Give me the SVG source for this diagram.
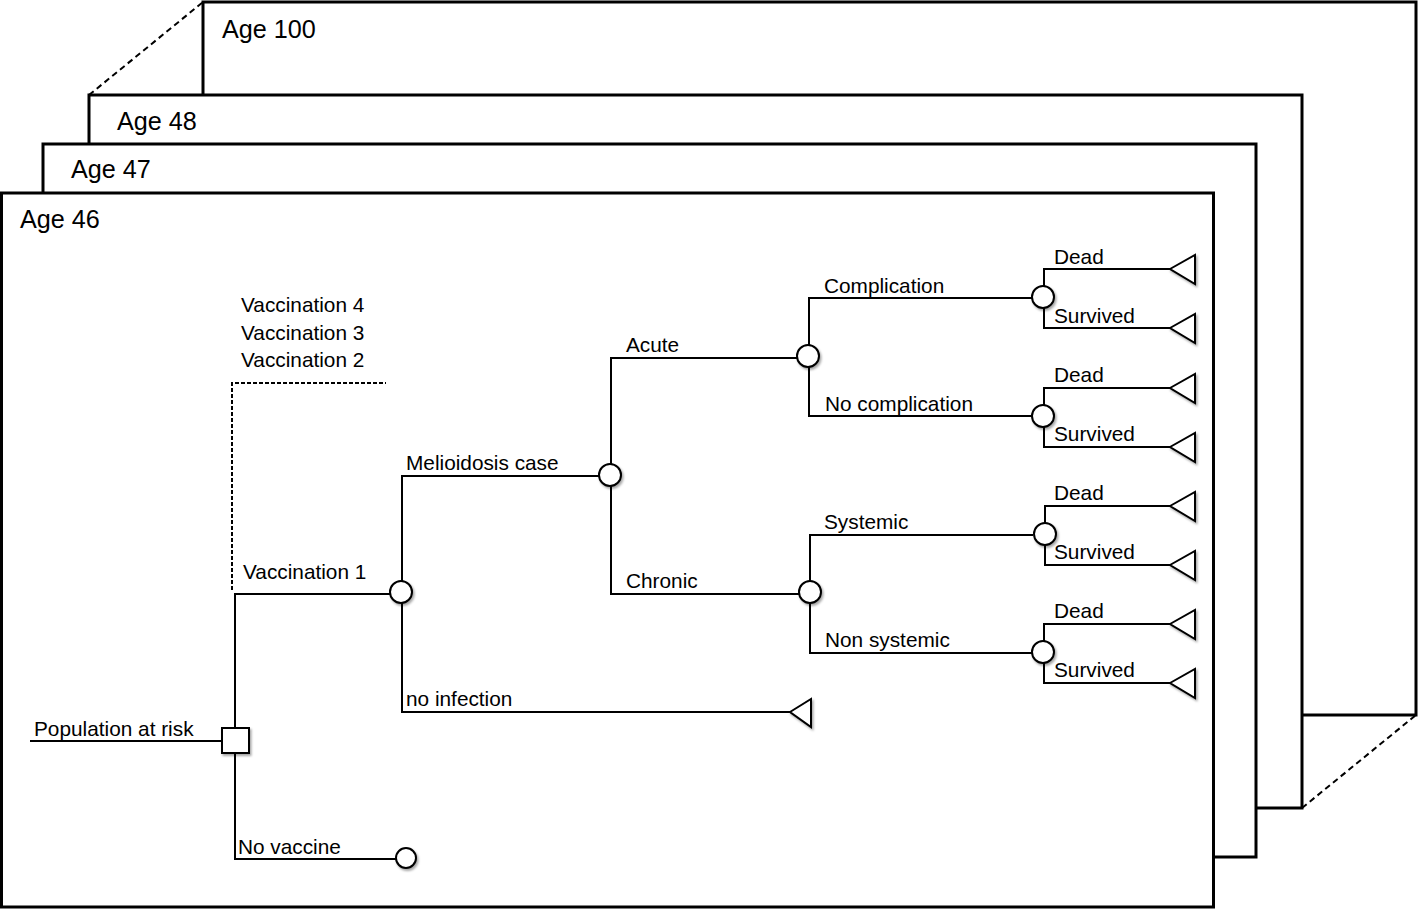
<svg xmlns="http://www.w3.org/2000/svg" width="1418" height="909" viewBox="0 0 1418 909">
<style>
.frame{fill:#fff;stroke:#000;stroke-width:3}
.age{font-family:"Liberation Sans",Arial,sans-serif;font-size:25.2px;fill:#000}
.lbl{font-family:"Liberation Sans",Arial,sans-serif;font-size:20.8px;fill:#000}
.edge{fill:none;stroke:#000;stroke-width:2}
.dash{fill:none;stroke:#000;stroke-width:2;stroke-dasharray:6,4}
.dash2{fill:none;stroke:#000;stroke-width:2;stroke-dasharray:4,2}
.node{fill:#fff;stroke:#000;stroke-width:2;filter:url(#sh)}
</style>
<defs>
<filter id="sh" x="-30%" y="-30%" width="170%" height="170%">
<feDropShadow dx="1.5" dy="2" stdDeviation="1.2" flood-color="#000" flood-opacity="0.35"/>
</filter>
</defs>
<rect width="1418" height="909" fill="#fff"/>
<g id="frames">
<line class="dash" x1="89" y1="95" x2="203" y2="2"/>
<line class="dash" x1="1302" y1="808" x2="1416" y2="715"/>
<g id="frame-age100"><rect class="frame" x="203" y="2" width="1213" height="713"/><text class="age" x="222" y="38">Age 100</text></g>
<g id="frame-age48"><rect class="frame" x="89" y="95" width="1213" height="713"/><text class="age" x="117" y="130">Age 48</text></g>
<g id="frame-age47"><rect class="frame" x="43" y="144" width="1213" height="713"/><text class="age" x="71" y="178">Age 47</text></g>
<g id="frame-age46"><rect class="frame" x="1.5" y="193" width="1212" height="714"/><text class="age" x="20" y="228">Age 46</text></g>
</g>
<g id="connectors">
<g id="e-pop"><path class="edge" d="M30 741H222"/><text class="lbl" x="34" y="736">Population at risk</text></g>
<g id="e-vac1"><path class="edge" d="M235 741V594H390"/><text class="lbl" x="243" y="579">Vaccination 1</text></g>
<g id="e-vac234"><path class="dash2" d="M232 590V383H386"/><text class="lbl" x="241" y="312">Vaccination 4</text><text class="lbl" x="241" y="340">Vaccination 3</text><text class="lbl" x="241" y="367">Vaccination 2</text></g>
<g id="e-novac"><path class="edge" d="M235 753V859H396"/><text class="lbl" x="238" y="854">No vaccine</text></g>
<g id="e-mel"><path class="edge" d="M402 592V476H599"/><text class="lbl" x="406" y="470">Melioidosis case</text></g>
<g id="e-noinf"><path class="edge" d="M402 603V712H790"/><text class="lbl" x="406" y="706">no infection</text></g>
<g id="e-acute"><path class="edge" d="M611 475V358H797"/><text class="lbl" x="626" y="352">Acute</text></g>
<g id="e-chronic"><path class="edge" d="M611 486V594H799"/><text class="lbl" x="626" y="588">Chronic</text></g>
<g id="e-comp"><path class="edge" d="M809 356V298H1032"/><text class="lbl" x="824" y="293">Complication</text></g>
<g id="e-nocomp"><path class="edge" d="M809 367V416H1032"/><text class="lbl" x="825" y="411">No complication</text></g>
<g id="e-sys"><path class="edge" d="M810 592V535H1033"/><text class="lbl" x="824" y="529">Systemic</text></g>
<g id="e-nonsys"><path class="edge" d="M810 603V653H1032"/><text class="lbl" x="825" y="647">Non systemic</text></g>
<g id="e-d1"><path class="edge" d="M1044 297V269H1170"/><text class="lbl" x="1054" y="264">Dead</text></g>
<g id="e-s1"><path class="edge" d="M1044 308V328H1170"/><text class="lbl" x="1054" y="323">Survived</text></g>
<g id="e-d2"><path class="edge" d="M1044 416V388H1170"/><text class="lbl" x="1054" y="382">Dead</text></g>
<g id="e-s2"><path class="edge" d="M1044 427V447H1170"/><text class="lbl" x="1054" y="441">Survived</text></g>
<g id="e-d3"><path class="edge" d="M1045 534V506H1170"/><text class="lbl" x="1054" y="500">Dead</text></g>
<g id="e-s3"><path class="edge" d="M1045 545V565H1170"/><text class="lbl" x="1054" y="559">Survived</text></g>
<g id="e-d4"><path class="edge" d="M1044 652V624H1170"/><text class="lbl" x="1054" y="618">Dead</text></g>
<g id="e-s4"><path class="edge" d="M1044 663V683H1170"/><text class="lbl" x="1054" y="677">Survived</text></g>
</g>
<g id="n-decision"><rect class="node" x="222" y="728" width="27" height="25"/></g>
<g id="n-vac1"><circle class="node" cx="401" cy="592" r="11"/></g>
<g id="n-novac"><circle class="node" cx="406" cy="858" r="10"/></g>
<g id="n-mel"><circle class="node" cx="610" cy="475" r="11"/></g>
<g id="n-acute"><circle class="node" cx="808" cy="356" r="11"/></g>
<g id="n-chronic"><circle class="node" cx="810" cy="592" r="11"/></g>
<g id="n-comp"><circle class="node" cx="1043" cy="297" r="11"/></g>
<g id="n-nocomp"><circle class="node" cx="1043" cy="416" r="11"/></g>
<g id="n-sys"><circle class="node" cx="1045" cy="534" r="11"/></g>
<g id="n-nonsys"><circle class="node" cx="1043" cy="652" r="11"/></g>
<g id="t-noinf"><polygon class="node" points="790,712 811,699 811,727"/></g>
<g id="t-d1"><polygon class="node" points="1170,269 1195,255 1195,284"/></g>
<g id="t-s1"><polygon class="node" points="1170,328 1195,314 1195,343"/></g>
<g id="t-d2"><polygon class="node" points="1170,388 1195,374 1195,403"/></g>
<g id="t-s2"><polygon class="node" points="1170,447 1195,433 1195,462"/></g>
<g id="t-d3"><polygon class="node" points="1170,506 1195,492 1195,521"/></g>
<g id="t-s3"><polygon class="node" points="1170,565 1195,551 1195,580"/></g>
<g id="t-d4"><polygon class="node" points="1170,624 1195,610 1195,639"/></g>
<g id="t-s4"><polygon class="node" points="1170,683 1195,669 1195,698"/></g>
</svg>
